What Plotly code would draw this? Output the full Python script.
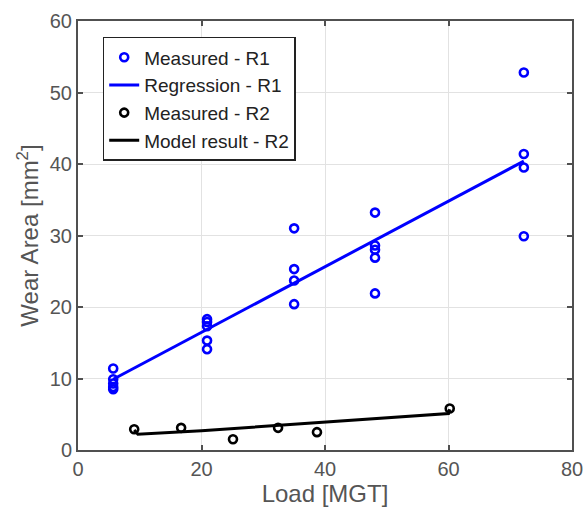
import plotly.graph_objects as go

# Measured - R1
r1_x = [5.7]*5 + [20.9]*5 + [35.0]*4 + [48.1]*5 + [72.2]*4
r1_y = [11.4, 9.9, 9.3, 8.8, 8.5,
        18.3, 17.9, 17.3, 15.3, 14.1,
        31.0, 25.3, 23.7, 20.4,
        33.2, 28.6, 28.0, 26.9, 21.9,
        52.8, 41.4, 39.5, 29.9]

# Regression - R1
reg_x = [5.7, 72.2]
reg_y = [9.9, 40.4]

# Measured - R2
r2_x = [9.1, 16.7, 25.1, 32.4, 38.7, 60.2]
r2_y = [2.9, 3.1, 1.5, 3.1, 2.5, 5.8]

# Model result - R2
mod_x = [9.1, 9.7, 20, 30, 40, 50, 60, 60.2]
mod_y = [2.8, 2.2, 2.7, 3.3, 3.9, 4.5, 5.1, 5.7]

x_ticks = [0, 20, 40, 60, 80]
y_ticks = [0, 10, 20, 30, 40, 50, 60]

blue = "#0000ff"
fig = go.Figure()
fig.add_trace(go.Scatter(x=r1_x, y=r1_y, mode="markers", name="Measured - R1",
                         marker=dict(symbol="circle-open", size=8, color=blue,
                                     line=dict(width=2.6, color=blue))))
fig.add_trace(go.Scatter(x=reg_x, y=reg_y, mode="lines", name="Regression - R1",
                         line=dict(color=blue, width=3)))
fig.add_trace(go.Scatter(x=r2_x, y=r2_y, mode="markers", name="Measured - R2",
                         marker=dict(symbol="circle-open", size=8, color="black",
                                     line=dict(width=2.6, color="black"))))
fig.add_trace(go.Scatter(x=mod_x, y=mod_y, mode="lines", name="Model result - R2",
                         line=dict(color="black", width=3)))

axis_common = dict(showline=True, linecolor="#505050", linewidth=2, mirror="ticks",
                   ticks="inside", ticklen=5, tickwidth=1.5, tickcolor="#505050",
                   showgrid=True, gridcolor="#e2e2e2", gridwidth=1, zeroline=False,
                   automargin=False,
                   tickfont=dict(size=20, color="#555555", family="Liberation Sans"))

fig.update_layout(
    width=584, height=514,
    margin=dict(l=78, r=12, t=21, b=64, autoexpand=False),
    paper_bgcolor="white", plot_bgcolor="white",
    font=dict(family="Liberation Sans", color="#333333"),
    xaxis=dict(range=[0, 80], tickvals=x_ticks,
               title=dict(text="Load [MGT]", font=dict(size=24, color="#555555"), standoff=4),
               **axis_common),
    yaxis=dict(range=[0, 60], tickvals=y_ticks,
               title=dict(text="Wear Area [mm<sup>2</sup>]", font=dict(size=24, color="#555555"), standoff=4),
               **axis_common),
    legend=dict(x=0.05, y=0.963, xanchor="left", yanchor="top",
                bgcolor="white", bordercolor="#222222", borderwidth=1.5,
                font=dict(size=19, color="#222222", family="Liberation Sans"),
                tracegroupgap=0, itemwidth=30),
    showlegend=True,
)

fig.write_html("out.html")
